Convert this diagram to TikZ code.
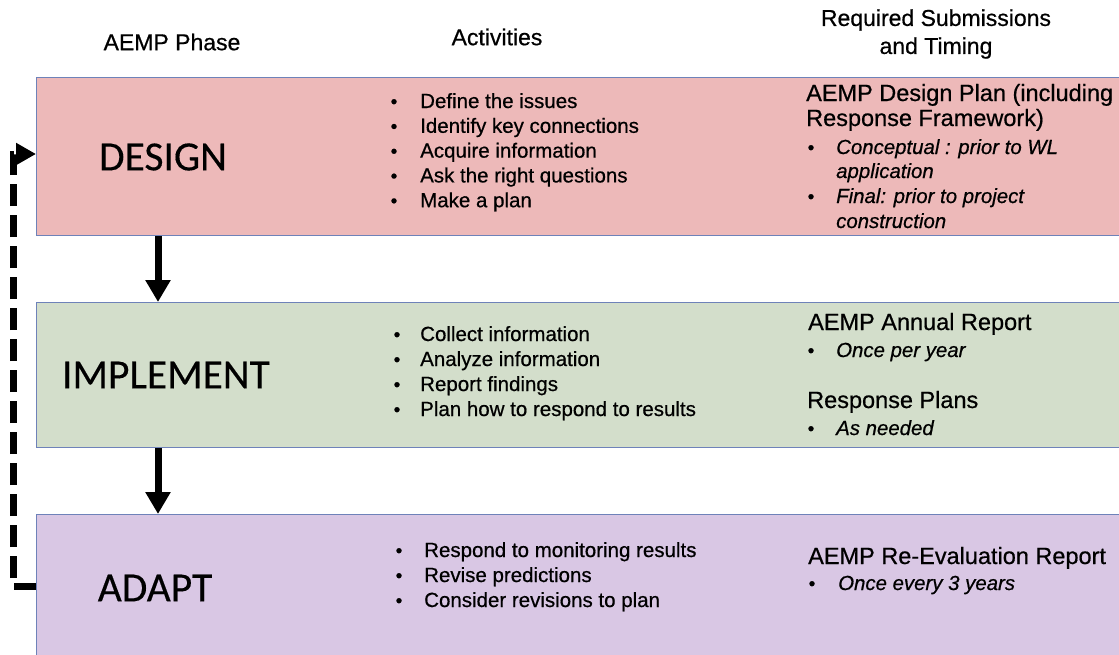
\documentclass[tikz,border=0pt]{standalone}
\usepackage{fontspec}
\setmainfont{Liberation Sans}[FakeBold=0.6]
\newfontfamily\phasefont{Carlito}[FakeBold=0.3]
\usetikzlibrary{arrows.meta}
\definecolor{designc}{RGB}{237,185,185}
\definecolor{implc}{RGB}{211,222,203}
\definecolor{adaptc}{RGB}{217,199,228}
\definecolor{edgec}{RGB}{110,130,185}
\tikzset{
  band/.style={draw=edgec, line width=1pt, anchor=north west, minimum width=1100pt, inner sep=0pt},
  phase/.style={font=\phasefont\fontsize{41.5}{44}\selectfont, inner sep=0pt},
  head/.style={font=\fontsize{23}{28}\selectfont, inner sep=0pt, align=center},
  item/.style={font=\fontsize{20.5}{24}\selectfont, anchor=base west, inner sep=0pt},
  bul/.style={font=\fontsize{19}{22}\selectfont, anchor=base, inner sep=0pt},
  sub/.style={font=\fontsize{23.5}{26}\selectfont, anchor=base west, inner sep=0pt},
  subit/.style={font=\fontsize{20.4}{24}\selectfont\itshape, anchor=base west, inner sep=0pt},
  flow/.style={line width=7pt, -{Triangle[width=24pt,length=22pt]}},
  loopback/.style={line width=7pt, dash pattern=on 22pt off 9pt, -{Triangle[width=21pt,length=20pt]}}
}
\begin{document}
\begin{tikzpicture}[x=1pt,y=-1pt]
\useasboundingbox (0,0) rectangle (1119,654);
% headers
\node[head] (h1) at (172,42) {AEMP Phase};
\node[head] (h2) at (497,37) {Activities};
\node[head] (h3) at (936,34) {Required Submissions\\and Timing};
% bands
\node[band, fill=designc, minimum height=158pt] (design) at (36,77) {};
\node[band, fill=implc, minimum height=145pt] (impl) at (36,302) {};
\node[band, fill=adaptc, minimum height=150pt] (adapt) at (36,514) {};
% phase names
\node[phase] (pd) at (163,157) {DESIGN};
\node[phase] (pi) at (166,375) {IMPLEMENT};
\node[phase] (pa) at (155,588) {ADAPT};
% design activities
\foreach \t [count=\i] in {Define the issues, Identify key connections, Acquire information, Ask the right questions, Make a plan}{
  \node[bul] (db\i) at (394,{108+24.8*(\i-1)}) {•};
  \node[item] (da\i) at (420,{108+24.8*(\i-1)}) {\t};
}
% implement activities
\foreach \t [count=\i] in {Collect information, Analyze information, Report findings, Plan how to respond to results}{
  \node[bul] (ib\i) at (397,{341+25*(\i-1)}) {•};
  \node[item] (ia\i) at (420,{341+25*(\i-1)}) {\t};
}
% adapt activities
\foreach \t [count=\i] in {Respond to monitoring results, Revise predictions, Consider revisions to plan}{
  \node[bul] (ab\i) at (399,{557+25*(\i-1)}) {•};
  \node[item] (aa\i) at (424,{557+25*(\i-1)}) {\t};
}
% design submissions
\node[sub] (ds1) at (806,101) {AEMP Design Plan (including};
\node[sub] (ds2) at (806,126) {Response Framework)};
\node[bul] (dsb1) at (811,154) {•};
\node[subit] (dsi1) at (836,154) {Conceptual : prior to WL};
\node[subit] (dsi2) at (836,178) {application};
\node[bul] (dsb2) at (811,203) {•};
\node[subit] (dsi3) at (836,203) {Final: prior to project};
\node[subit] (dsi4) at (836,228) {construction};
% implement submissions
\node[sub] (is1) at (808,330) {AEMP Annual Report};
\node[bul] (isb1) at (811,357) {•};
\node[subit] (isi1) at (836,357) {Once per year};
\node[sub] (is2) at (807,408) {Response Plans};
\node[bul] (isb2) at (811,435) {•};
\node[subit] (isi2) at (836,435) {As needed};
% adapt submissions
\node[sub] (as1) at (808,564) {AEMP Re-Evaluation Report};
\node[bul] (asb1) at (812,590) {•};
\node[subit] (asi1) at (838,590) {Once every 3 years};
% arrows
\draw[flow] (design.south west -| pd.south) ++(-5,0) coordinate (a1) -- (a1 |- impl.north);
\draw[flow] (impl.south west -| pd.south) ++(-5,0) coordinate (a2) -- (a2 |- adapt.north);
\coordinate (lb) at (13,586);
\coordinate (lt) at (13,154);
\draw[loopback] (adapt.west |- lb) -- (lb) -- (lt) -- (design.west |- lt);
\end{tikzpicture}
\end{document}
